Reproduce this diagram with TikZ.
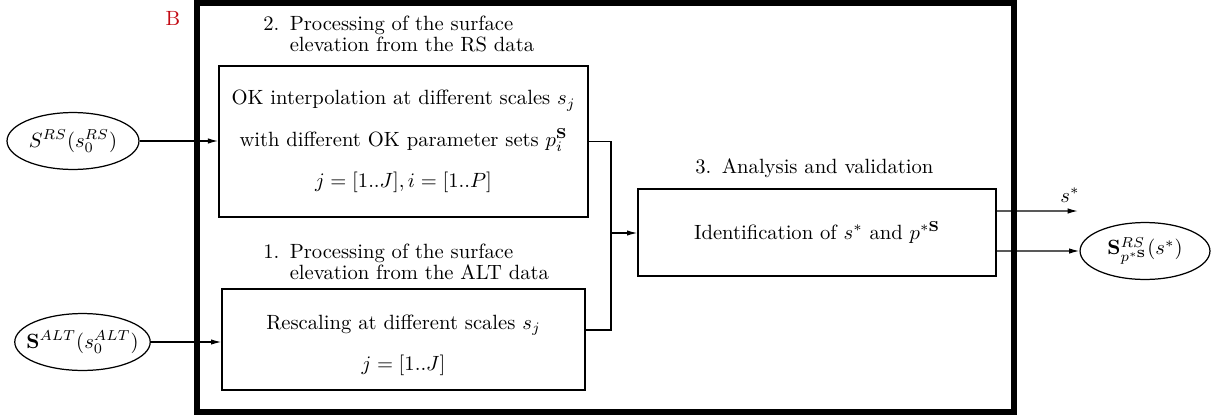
\documentclass[tikz,border=0pt]{standalone}
\usetikzlibrary{arrows.meta,shapes.geometric,calc}
\definecolor{bred}{RGB}{195,10,20}
\renewcommand{\arraystretch}{0.85}
\begin{document}
\begin{tikzpicture}[x=0.485pt,y=-0.485pt,
  box/.style={draw,line width=0.65pt,inner sep=0pt,align=center},
  oval/.style={draw,ellipse,line width=0.6pt,inner ysep=0pt,inner xsep=-4pt,minimum height=27.6pt},
  conn/.style={line width=0.6pt},
  arr/.style={conn,-{Latex[length=5pt,width=2.6pt]}},
  ttl/.style={anchor=base west,inner sep=0pt}]
\useasboundingbox (0,0) rectangle (1211,417);
\draw[line width=2.9pt] (197,3) rectangle (1014,412);
\node[text=bred] (lb) at (173,18) {B};

% titles
\node[ttl] (t2) at (263,30) {2.\enspace\begin{tabular}[t]{@{}l@{}}Processing of the surface\\ elevation from the RS data\end{tabular}};
\node[ttl] (t1) at (263,258) {1.\enspace\begin{tabular}[t]{@{}l@{}}Processing of the surface\\ elevation from the ALT data\end{tabular}};
\node[ttl] (t3) at (695,173) {3.\enspace Analysis and validation};

% boxes
\node[box,minimum width=179pt,minimum height=73.2pt] (box2) at (403.5,141.5)
  {OK interpolation at different scales $s_j$\\[8pt] with different OK parameter sets $p_i^{\mathbf{S}}$\\[8pt] $j=[1..J], i=[1..P]$};
\node[box,minimum width=176pt,minimum height=49pt] (box1) at (403.5,339.5)
  {\rule{0pt}{12.5pt}Rescaling at different scales $s_j$\\[8pt] $j=[1..J]$};
\node[box,minimum width=173.6pt,minimum height=42.2pt] (box3) at (817,232.5)
  {Identification of $s^*$ and $p^{*\mathbf{S}}$};

% ellipses
\node[oval,minimum width=64pt] (srs) at (73,141) {$S^{RS}(s_0^{RS})$};
\node[oval,minimum width=64.5pt] (salt) at (82.5,342) {$\mathbf{S}^{ALT}(s_0^{ALT})$};
\node[oval,minimum width=63pt] (out) at (1145,251) {$\mathbf{S}^{RS}_{p^{*\mathbf{S}}}(s^*)$};

% connectors
\draw[arr] (srs.east) -- (srs.east -| box2.west);
\draw[arr] (salt.east) -- (salt.east -| box1.west);
\coordinate (jn) at (611,233);
\draw[conn] (box2.east) -| (jn);
\draw[conn] ([yshift=4.6pt]box1.east) -| (jn);
\draw[arr] (jn) -- (jn -| box3.west);
\coordinate (sst) at (1078,211);
\draw[arr] ([yshift=10.4pt]box3.east) -- (sst);
\node (slab) at (1070,195) {$s^*$};
\draw[arr] ([yshift=-9pt]box3.east) -- (out.west);
\end{tikzpicture}
\end{document}
